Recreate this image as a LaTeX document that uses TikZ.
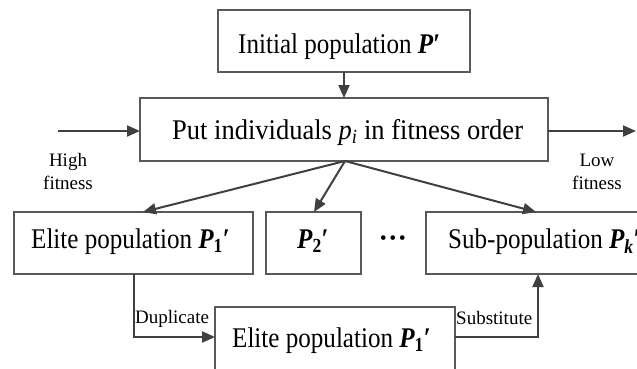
\documentclass[tikz,border=0pt]{standalone}
\usepackage{fontspec}
\usepackage{graphicx}
\setmainfont{Liberation Serif}
\usetikzlibrary{arrows.meta}
\definecolor{ln}{HTML}{404040}
\definecolor{bx}{HTML}{595959}
\newcommand{\BP}{{\bfseries\itshape P}}
\newcommand{\pr}{\textbf{′}}
\newcommand{\sq}[1]{\scalebox{0.88}[1]{#1}}
\newcommand{\sqw}[1]{\scalebox{0.93}[1]{#1}}
\tikzset{
  x=1pt,y=-1pt,
  box/.style={draw=bx,line width=1.1pt},
  arr/.style={draw=ln,line width=2pt,-{Triangle[length=13pt,width=11pt]}},
  big/.style={font=\fontsize{28.5}{30}\selectfont,inner sep=0pt,anchor=base west},
  small/.style={font=\fontsize{19}{20}\selectfont,inner sep=0pt,anchor=base},
  lab/.style={font=\fontsize{19}{20}\selectfont,inner sep=0pt,anchor=base west},
}
\begin{document}
\begin{tikzpicture}
\useasboundingbox (0,0) rectangle (637,368);
% boxes
\draw[box] (218,10) rectangle (470,72);
\node[big] (init) at (238,53) {\sq{Initial population \BP\pr}};
\draw[box] (140,98) rectangle (548,161);
\node[big] (put) at (172,139) {\sqw{Put individuals \textit{p}\textsubscript{\textit{i}} in fitness order}};
\draw[box] (14,212) rectangle (253,274);
\node[big] (elite) at (31,248) {\sq{Elite population \BP\textsubscript{\bfseries 1}\pr}};
\draw[box] (266,212) rectangle (361,274);
\node[big] (p2) at (297,248) {\sq{\BP\textsubscript{\bfseries 2}\pr}};
\node[big,anchor=center] (dots) at (393,242) {\textbf{···}};
\draw[box] (426,212) rectangle (680,274);
\node[big] (sub) at (448,248) {\sq{Sub-population \BP\textsubscript{\bfseries\itshape k}\pr}};
\draw[box] (215,307) rectangle (455,400);
\node[big] (elite2) at (232,347) {\sq{Elite population \BP\textsubscript{\bfseries 1}\pr}};
% coordinates
\coordinate (initb) at (344,72);
\coordinate (putt) at (344,98);
\coordinate (putb) at (345,161);
\coordinate (la) at (58,131);
\coordinate (lb) at (140,131);
\coordinate (ra) at (548,131);
\coordinate (rb) at (636,131);
\coordinate (et) at (143,212);
\coordinate (pt) at (314,212);
\coordinate (st) at (536,212);
\coordinate (eb) at (134,274);
\coordinate (dl) at (215,337);
\coordinate (dr) at (455,337);
\coordinate (sb) at (538,274);
% arrows
\draw[arr] (initb) -- (putt);
\draw[arr] (la) -- (lb);
\draw[arr] (ra) -- (rb);
\draw[arr] (putb) -- (et);
\draw[arr] (putb) -- (pt);
\draw[arr] (putb) -- (st);
\draw[arr] (eb) |- (dl);
\draw[arr] (dr) -| (sb);
% labels
\node[small] (hf1) at (68,166) {High};
\node[small] (hf2) at (68,189) {fitness};
\node[small] (lf1) at (597,166) {Low};
\node[small] (lf2) at (597,189) {fitness};
\node[lab] (dup) at (135,323) {Duplicate};
\node[lab] (subst) at (456,324) {Substitute};
\end{tikzpicture}
\end{document}
